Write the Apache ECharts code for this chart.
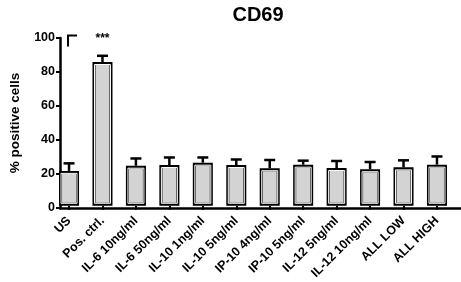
<!DOCTYPE html>
<html>
<head>
<meta charset="utf-8">
<script src="https://cdn.jsdelivr.net/npm/echarts@6/dist/echarts.min.js"></script>
<style>
  html, body { margin: 0; padding: 0; background: #fff; }
  #chart { width: 461px; height: 282px; }
</style>
</head>
<body>
<div id="chart"></div>
<script>
// data
var categories = ['US', 'Pos. ctrl.', 'IL-6 10ng/ml', 'IL-6 50ng/ml', 'IL-10 1ng/ml', 'IL-10 5ng/ml',
  'IP-10 4ng/ml', 'IP-10 5ng/ml', 'IL-12 5ng/ml', 'IL-12 10ng/ml', 'ALL LOW', 'ALL HIGH'];
var means = [20.8, 85.7, 23.9, 24.3, 25.7, 24.3, 22.4, 24.5, 22.5, 21.8, 22.9, 24.5];
var errTops = [25.3, 89.4, 28.2, 28.8, 28.8, 27.6, 27.3, 26.9, 26.7, 26.1, 27.1, 29.4];
var yTicks = [0, 20, 40, 60, 80, 100];

var FONT = 'Liberation Sans';
var chart = echarts.init(document.getElementById('chart'));

// error bars (upper only) with a cap, plus the thin white line inside each bar
function renderErr(params, api) {
  var i = api.value(0);
  var base = api.coord([i, api.value(1)]);
  var top = api.coord([i, api.value(2)]);
  var zero = api.coord([i, 0]);
  var st = { stroke: '#000', lineWidth: 2.5 };
  return {
    type: 'group',
    children: [
      { type: 'rect', shape: { x: base[0] - 8, y: base[1] + 2.5, width: 16, height: zero[1] - base[1] - 5 },
        style: { stroke: '#fff', lineWidth: 1, fill: null } },
      { type: 'line', shape: { x1: base[0], y1: base[1], x2: top[0], y2: top[1] }, style: st },
      { type: 'line', shape: { x1: top[0] - 5.5, y1: top[1], x2: top[0] + 5.5, y2: top[1] }, style: st }
    ]
  };
}

// significance bracket (cut off) over US and stars over Pos. ctrl.
function renderSig(params, api) {
  var a = api.coord([0, 95]);
  var b = api.coord([0, 101.5]);
  var s = api.coord([1, 99.5]);
  return {
    type: 'group',
    children: [
      { type: 'polyline', shape: { points: [[a[0] - 1, a[1]], [b[0] - 1, b[1]], [b[0] + 8, b[1]]] },
        style: { stroke: '#000', lineWidth: 2, fill: null } },
      { type: 'text', x: s[0], y: s[1], style: { text: '***', font: 'bold 12px ' + FONT,
        fill: '#000', align: 'center', verticalAlign: 'middle' } }
    ]
  };
}

chart.setOption({
  animation: false,
  title: {
    text: 'CD69', left: 253, top: 0, textAlign: 'center',
    textStyle: { fontFamily: FONT, fontWeight: 'bold', fontSize: 20, color: '#000' }
  },
  grid: [
    { left: 52.3, right: 7.3, top: 38, bottom: 74 },
    { left: 46, right: 0, top: 38, bottom: 74 }
  ],
  xAxis: [
    {
      type: 'category', data: categories, gridIndex: 0,
      axisLine: { show: false },
      axisTick: { show: true, alignWithLabel: true, length: 4, lineStyle: { color: '#000', width: 2 } },
      axisLabel: { rotate: 45, margin: 13, interval: 0, fontFamily: FONT, fontWeight: 'bold', fontSize: 12.5, color: '#000' }
    },
    {
      type: 'value', gridIndex: 1, min: 0, max: 1,
      axisLine: { show: true, lineStyle: { color: '#000', width: 2.5 } },
      axisTick: { show: false }, axisLabel: { show: false }, splitLine: { show: false }
    }
  ],
  yAxis: [
    { type: 'value', gridIndex: 0, min: 0, max: 100, show: false },
    {
      type: 'value', gridIndex: 1, min: 0, max: 100, interval: 20,
      name: '% positive cells', nameLocation: 'middle', nameGap: 38,
      nameTextStyle: { fontFamily: FONT, fontWeight: 'bold', fontSize: 13.5, color: '#000' },
      axisLine: { show: true, lineStyle: { color: '#000', width: 2.5 } },
      axisTick: { show: true, length: 4, lineStyle: { color: '#000', width: 2 } },
      axisLabel: { margin: 5, fontFamily: FONT, fontWeight: 'bold', fontSize: 12.5, color: '#000',
        formatter: function (v) { return yTicks.indexOf(v) >= 0 ? String(v) : ''; } },
      splitLine: { show: false }
    }
  ],
  series: [
    {
      type: 'bar', xAxisIndex: 0, yAxisIndex: 0, data: means, barWidth: 20,
      itemStyle: { color: '#d3d3d3', borderColor: '#000', borderWidth: 3 }
    },
    {
      type: 'custom', xAxisIndex: 0, yAxisIndex: 0, renderItem: renderErr, z: 3,
      data: means.map(function (m, i) { return [i, m, errTops[i]]; })
    },
    {
      type: 'custom', xAxisIndex: 0, yAxisIndex: 0, renderItem: renderSig, clip: false,
      data: [[0]]
    }
  ]
});
</script>
</body>
</html>
